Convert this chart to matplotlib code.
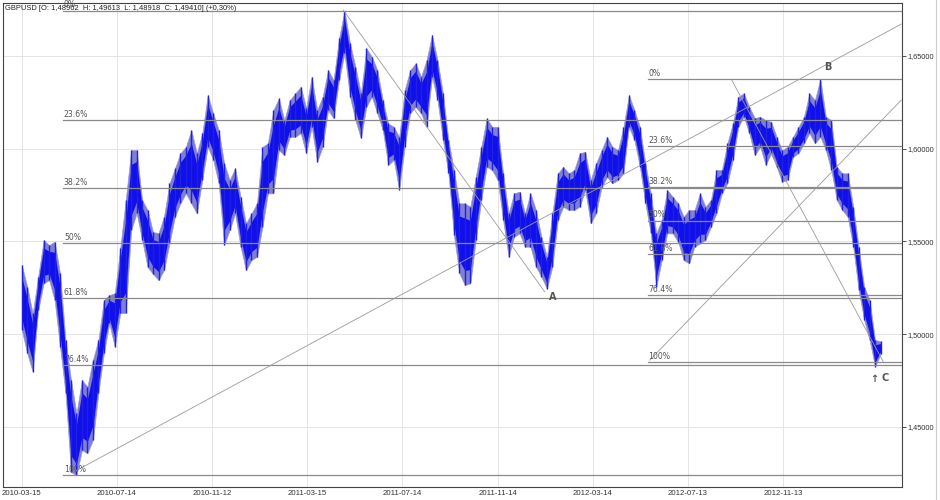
import numpy as np
import matplotlib
matplotlib.use("Agg")
import matplotlib.pyplot as plt
from matplotlib.lines import Line2D

# ---- data (weekly samples; x = trading-day index) ----
highs = [1.5372, 1.5255, 1.5112, 1.5309, 1.5507, 1.5480, 1.5498, 1.5327, 1.4968, 1.4752,
         1.4572, 1.4752, 1.4716, 1.4860, 1.4968, 1.5183, 1.5210, 1.5220, 1.5462, 1.5723,
         1.5992, 1.5992, 1.5723, 1.5669, 1.5550, 1.5545, 1.5633, 1.5813, 1.5894, 1.5975,
         1.6010, 1.6100, 1.5975, 1.6083, 1.6289, 1.6190, 1.6100, 1.5921, 1.5831, 1.5894,
         1.5741, 1.5597, 1.5651, 1.5705, 1.6010, 1.6029, 1.6208, 1.6271, 1.6154, 1.6262,
         1.6298, 1.6334, 1.6219, 1.6388, 1.6208, 1.6280, 1.6424, 1.6370, 1.6595, 1.6745,
         1.6568, 1.6442, 1.6298, 1.6541, 1.6496, 1.6424, 1.6262, 1.6136, 1.6118, 1.6064,
         1.6316, 1.6424, 1.6460, 1.6388, 1.6478, 1.6613, 1.6478, 1.6298, 1.6046, 1.5885,
         1.5705, 1.5705, 1.5687, 1.5848, 1.6010, 1.6163, 1.6118, 1.6118, 1.5867, 1.5651,
         1.5759, 1.5768, 1.5651, 1.5759, 1.5669, 1.5525, 1.5417, 1.5651, 1.5867, 1.5902,
         1.5867, 1.5885, 1.5975, 1.5983, 1.5831, 1.5921, 1.5992, 1.6063, 1.6010, 1.5992,
         1.6118, 1.6289, 1.6208, 1.6118, 1.5921, 1.5759, 1.5543, 1.5615, 1.5777, 1.5741,
         1.5705, 1.5633, 1.5669, 1.5669, 1.5759, 1.5687, 1.5723, 1.5885, 1.5885, 1.6029,
         1.6136, 1.6280, 1.6298, 1.6226, 1.6165, 1.6172, 1.6154, 1.6145, 1.6064, 1.5992,
         1.6010, 1.6064, 1.6118, 1.6172, 1.6298, 1.6262, 1.6375, 1.6172, 1.6154, 1.5902,
         1.5867, 1.5867, 1.5687, 1.5471, 1.5255, 1.5183, 1.4968, 1.4961]
lows = [1.5022, 1.4896, 1.4797, 1.5129, 1.5273, 1.5291, 1.5183, 1.4931, 1.4680, 1.4256,
        1.4239, 1.4374, 1.4357, 1.4428, 1.4680, 1.4896, 1.5058, 1.4931, 1.5112, 1.5113,
        1.5561, 1.5653, 1.5507, 1.5361, 1.5324, 1.5291, 1.5345, 1.5489, 1.5633, 1.5705,
        1.5759, 1.5705, 1.5651, 1.5831, 1.6010, 1.5939, 1.5813, 1.5480, 1.5561, 1.5651,
        1.5471, 1.5345, 1.5399, 1.5417, 1.5579, 1.5759, 1.5759, 1.5992, 1.5965, 1.6064,
        1.6064, 1.6083, 1.5975, 1.6118, 1.5929, 1.6010, 1.6208, 1.6163, 1.6370, 1.6514,
        1.6280, 1.6154, 1.6056, 1.6226, 1.6280, 1.6190, 1.6100, 1.5912, 1.5939, 1.5777,
        1.6010, 1.6190, 1.6226, 1.6190, 1.6118, 1.6388, 1.6262, 1.6046, 1.5867, 1.5534,
        1.5327, 1.5264, 1.5273, 1.5507, 1.5723, 1.5902, 1.5885, 1.5831, 1.5615, 1.5417,
        1.5525, 1.5543, 1.5471, 1.5471, 1.5363, 1.5309, 1.5245, 1.5363, 1.5615, 1.5687,
        1.5669, 1.5669, 1.5687, 1.5777, 1.5597, 1.5651, 1.5793, 1.5847, 1.5813, 1.5831,
        1.5867, 1.6118, 1.6046, 1.5902, 1.5705, 1.5543, 1.5255, 1.5399, 1.5543, 1.5543,
        1.5498, 1.5399, 1.5381, 1.5471, 1.5489, 1.5507, 1.5579, 1.5651, 1.5759, 1.5813,
        1.5939, 1.6118, 1.6172, 1.6083, 1.5965, 1.6010, 1.5912, 1.5975, 1.5902, 1.5821,
        1.5831, 1.5956, 1.5975, 1.6029, 1.6083, 1.6029, 1.6064, 1.5992, 1.5885, 1.5723,
        1.5669, 1.5633, 1.5471, 1.5237, 1.5076, 1.4968, 1.4824, 1.4892]
bar_step = 5  # one sample per trading week
days = np.arange(len(highs)) * bar_step

tick_days = [0, 87, 174, 261, 348, 435, 522, 609, 696]
tick_labels = ["2010-03-15", "2010-07-14", "2010-11-12", "2011-03-15", "2011-07-14",
               "2011-11-14", "2012-03-14", "2012-07-13", "2012-11-13"]
y_ticks = [1.45, 1.50, 1.55, 1.60, 1.65]

fib_levels = [0.0, 0.236, 0.382, 0.5, 0.618, 0.764, 1.0]
fib_names = ["0%", "23.6%", "38.2%", "50%", "61.8%", "76.4%", "100%"]
fib1_high, fib1_low, fib1_start = 1.6745, 1.4239, 38
fib2_high, fib2_low, fib2_start = 1.6375, 1.4849, 572

trend_lines = [((50, 1.4264), (804, 1.6672)),
               ((294, 1.6747), (478, 1.5228)),
               ((649, 1.6370), (788, 1.4845)),
               ((574, 1.4859), (804, 1.6262))]
point_labels = [("A", 485, 1.5198), ("B", 737, 1.6440), ("C", 789, 1.4763)]

header = "GBPUSD [O: 1,48962  H: 1,49613  L: 1,48918  C: 1,49410] (+0,30%)"

# ---- figure ----
fig = plt.figure(figsize=(9.4, 5.0), dpi=100)
ax = fig.add_axes([0.0029, 0.026, 0.9564, 0.9674])
ax.set_facecolor("white")
xmin, xmax = -17.4, 804.4
ax.set_xlim(xmin, xmax)
ax.set_ylim(1.4175, 1.6784)

ax.set_xticks(tick_days)
ax.set_xticklabels(tick_labels)
ax.set_yticks(y_ticks)
ax.set_yticklabels([("%.5f" % v).replace(".", ",") for v in y_ticks])
ax.yaxis.tick_right()
ax.tick_params(axis="x", length=0, pad=2, labelsize=5.6, colors="#333333")
ax.tick_params(axis="y", length=3, width=0.6, pad=1.0, labelsize=5.3, colors="#333333",
               direction="out")
for lab in ax.get_xticklabels() + ax.get_yticklabels():
    lab.set_fontfamily("Liberation Sans")
ax.grid(True, color="#e4e4e4", lw=0.7)
ax.set_axisbelow(True)
for s in ax.spines.values():
    s.set_color("#444444")
    s.set_linewidth(0.8)

# price band: light wick halo + dark blue body
ax.fill_between(days, lows, highs, color="#7f7fd4", lw=0.5, edgecolor="#9a9ad0", zorder=3)
rng = [h - l for h, l in zip(highs, lows)]
body_lo = [l + 0.18 * r for l, r in zip(lows, rng)]
body_hi = [h - 0.18 * r for h, r in zip(highs, rng)]
ax.fill_between(days, body_lo, body_hi, color="#1010ec", lw=0, zorder=4)
ax.vlines(days, lows, highs, color="#2020e0", lw=1.0, zorder=4)

# fibonacci retracements
for high, low, start in [(fib1_high, fib1_low, fib1_start), (fib2_high, fib2_low, fib2_start)]:
    for r, name in zip(fib_levels, fib_names):
        lvl = high - r * (high - low)
        ax.plot([start, xmax], [lvl, lvl], color="#8a8a8a", lw=0.9, zorder=5)
        ax.text(start + 0.5, lvl + 0.0006, name, fontsize=5.6, color="#555555",
                ha="left", va="bottom", zorder=6, family="DejaVu Sans")

# trend lines
for (x0, y0), (x1, y1) in trend_lines:
    ax.plot([x0, x1], [y0, y1], color="#9a9a9a", lw=0.6, zorder=5)

for name, x, y in point_labels:
    ax.text(x, y, name, fontsize=7, color="#555555", fontweight="bold",
            ha="center", va="center", zorder=6)
ax.text(779, 1.4760, "\u2191", fontsize=7, color="#555555", fontweight="bold",
        ha="center", va="center", zorder=6)

ax.text(0.003, 0.997, header, transform=ax.transAxes, fontsize=5.4, color="#222222",
        ha="left", va="top", family="Liberation Sans", zorder=7)

fig.add_artist(Line2D([0.9957, 0.9957], [0, 1], color="#cccccc", lw=0.8))

fig.savefig("out.png", dpi=100)
